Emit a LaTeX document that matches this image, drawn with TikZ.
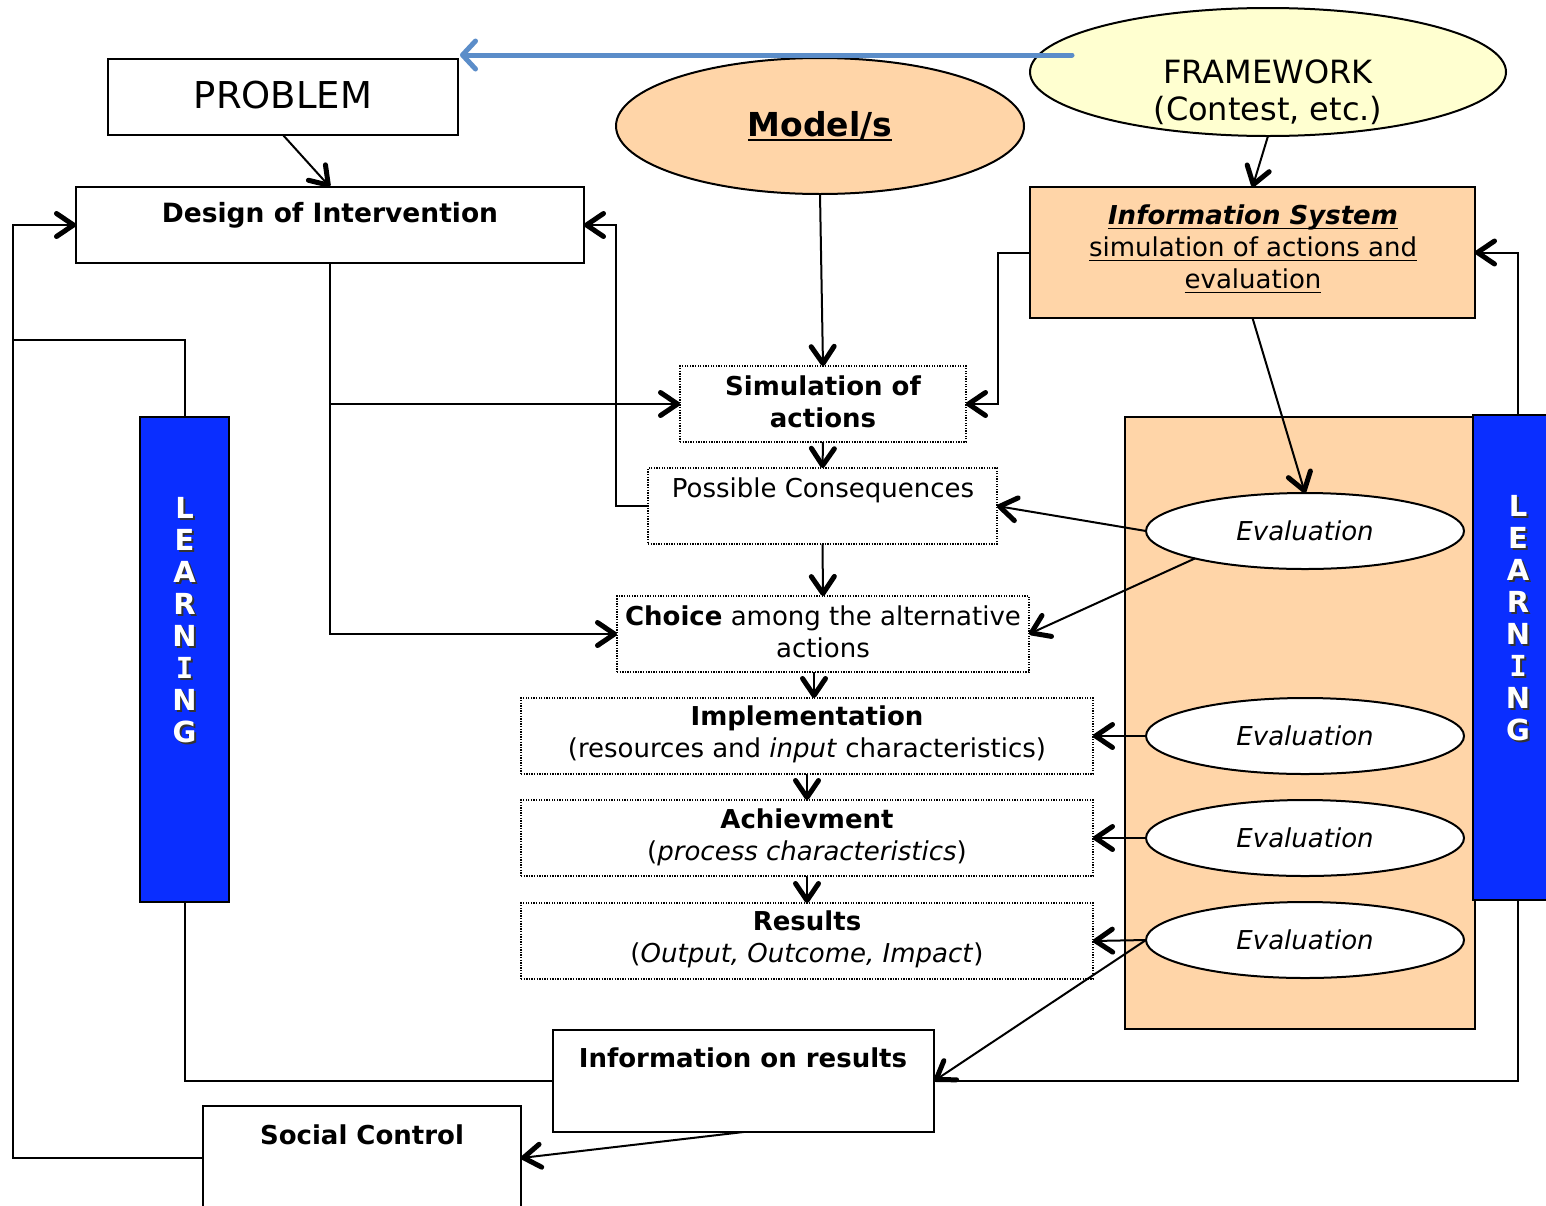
\documentclass[tikz,border=0pt]{standalone}
\usepackage{fontspec}
\setmainfont{DejaVu Sans}
\newfontfamily\serifI{DejaVu Sans Mono}
\newcommand\thickul[1]{\setbox0\hbox{#1}\rlap{\rule[-5pt]{\wd0}{1.8pt}}\box0}
\usetikzlibrary{arrows.meta,shapes.geometric}
\definecolor{peach}{RGB}{255,213,168}
\definecolor{cream}{RGB}{255,255,208}
\definecolor{barblue}{RGB}{10,46,255}
\definecolor{linkblue}{RGB}{91,141,201}

\begin{document}
\begin{tikzpicture}[x=1pt,y=-1pt,
  every node/.style={inner sep=0pt, outer sep=0pt},
  box/.style={draw, line width=2pt, rectangle},
  dotbox/.style={draw, line width=1.3pt, dash pattern=on 1.3pt off 1.3pt},
  oval/.style={draw, line width=2pt, ellipse},
  txt/.style={font=\fontsize{26}{32}\selectfont, align=center},
  conn/.style={line width=2pt, line join=miter},
  arr/.style={conn, -{Straight Barb[length=17pt,width=23pt,line width=5pt,round]}},
  bluearr/.style={line width=5pt, linkblue, line cap=round,
    -{Straight Barb[length=13pt,width=28pt,line width=5pt,round]}},
  letter/.style={font=\fontsize{29}{29}\selectfont\bfseries},
]
\useasboundingbox[fill=white] (0,0) rectangle (1546,1205);

% --- top row -------------------------------------------------------------
\node[box, minimum width=350, minimum height=76] (problem) at (283,97) {};
\node[font=\fontsize{37}{44}\selectfont] (problemtxt) at (283,95) {PROBLEM};

\node[oval, fill=peach, minimum width=408, minimum height=136] (model) at (820,126) {};
\node[font=\fontsize{33}{40}\selectfont\bfseries] (modeltxt) at (820,126) {\thickul{Model/s}};

\node[oval, fill=cream, minimum width=476, minimum height=128] (frame) at (1268,72) {};
\node[font=\fontsize{32}{37}\selectfont, align=center] (frametxt) at (1268,92)
  {FRAMEWORK\\(Contest, etc.)};

\coordinate (fwtail) at (1072,55);
\coordinate (probtip) at (460,55);
\draw[bluearr] (fwtail) -- (probtip);

% --- design and information system -------------------------------------
\node[box, minimum width=508, minimum height=76] (design) at (330,225) {};
\node[txt, font=\fontsize{26.5}{32}\selectfont\bfseries] (designtxt) at (330,215) {Design of Intervention};

\node[box, fill=peach, minimum width=445, minimum height=131] (infosys) at (1252.5,252.5) {};
\node[txt] (infosystxt) at (1253,249)
  {\textbf{\textit{\thickul{Information System}}}\\\thickul{simulation of actions and}\\\thickul{evaluation}};

% --- central chain --------------------------------------------------------
\node[dotbox, minimum width=286, minimum height=76] (sim) at (823,404) {};
\node[txt, font=\fontsize{26}{32}\selectfont\bfseries] (simtxt) at (823,402) {Simulation of\\actions};

\node[dotbox, minimum width=349, minimum height=76] (pc) at (822.5,506) {};
\node[txt] (pctxt) at (823,490) {Possible Consequences};

\node[dotbox, minimum width=412, minimum height=76] (choice) at (823,634) {};
\node[txt] (choicetxt) at (823,632) {\textbf{Choice} among the alternative\\actions};

\node[dotbox, minimum width=572, minimum height=76] (impl) at (807,736) {};
\node[txt] (impltxt) at (807,734) {\textbf{Implementation}\\(resources and \textit{input} characteristics)};

\node[dotbox, minimum width=572, minimum height=76] (ach) at (807,838) {};
\node[txt] (achtxt) at (807,837) {\textbf{Achievment}\\(\textit{process characteristics})};

\node[dotbox, minimum width=572, minimum height=76] (res) at (807,941) {};
\node[txt] (restxt) at (807,939) {\textbf{Results}\\(\textit{Output, Outcome, Impact})};

\node[box, minimum width=381, minimum height=102] (info) at (743.5,1081) {};
\node[txt, font=\fontsize{26}{32}\selectfont\bfseries] (infotxt) at (743,1058) {Information on results};

\node[box, minimum width=318, minimum height=104] (social) at (362,1158) {};
\node[txt, font=\fontsize{26}{32}\selectfont\bfseries] (socialtxt) at (362,1135) {Social Control};

% --- evaluation panel and learning bars -----------------------------------
\node[box, fill=peach, minimum width=350, minimum height=612] (panel) at (1300,723) {};

\node[box, fill=barblue, minimum width=89, minimum height=485] (learnL) at (184.5,659.5) {};
\node[box, fill=barblue, minimum width=90, minimum height=485] (learnR) at (1518,657.5) {};

\foreach \ch [count=\k] in {L,E,A,R,N,{\serifI I},N,G} {
  \node[letter, text=black!80] (lLs\k) at (186.5,{510+32*(\k-1)}) {\ch};
  \node[letter, text=white] (lL\k) at (184.5,{508+32*(\k-1)}) {\ch};
  \node[letter, text=black!80] (lRs\k) at (1520,{508+32*(\k-1)}) {\ch};
  \node[letter, text=white] (lR\k) at (1518,{506+32*(\k-1)}) {\ch};
}

\foreach \n/\yy in {ev1/531, ev2/736, ev3/838, ev4/940} {
  \node[oval, fill=white, minimum width=318, minimum height=76, txt] (\n) at (1305,\yy) {\textit{Evaluation}};
}

% --- connectors -----------------------------------------------------------
\draw[arr] (problem.south) -- (design.north);
\draw[arr] (model.south) -- (sim.north);
\draw[arr] (frame.south) -- (infosys.north);

\draw[arr] (design.south) |- (choice.west);
\draw[arr] (design.south |- sim.west) -- (sim.west);

\draw[arr] (pc.west) -- ++(-32,0) |- (design.east);
\draw[arr] (infosys.west) -- ++(-32,0) |- (sim.east);

\draw[arr] (sim.south) -- (pc.north);
\draw[arr] (pc.south) -- (choice.north);
\draw[arr] ([xshift=-9pt]choice.south) -- ([xshift=-9pt]choice.south |- impl.north);
\draw[arr] (impl.south) -- (ach.north);
\draw[arr] (ach.south) -- (res.north);

\draw[arr] (infosys.south) -- (ev1.north);
\draw[arr] (ev1.west) -- (pc.east);
\draw[arr] (ev1.194.5) -- (choice.east);
\draw[arr] (ev2.west) -- (impl.east);
\draw[arr] (ev3.west) -- (ach.east);
\draw[arr] (ev4.west) -- (res.east);
\draw[arr] (ev4.west) -- (info.east);

\coordinate (ljoin) at (13,340);
\draw[arr] (social.west) -- ++(-190,0) |- (design.west);
\draw[conn] (learnL.north) |- (ljoin);
\draw[conn] (learnL.south) |- (info.west);
\draw[conn] (info.east) -| (learnR.south);
\draw[arr] (learnR.north) |- (infosys.east);
\draw[arr] (info.south) -- (social.east);
\end{tikzpicture}
\end{document}
